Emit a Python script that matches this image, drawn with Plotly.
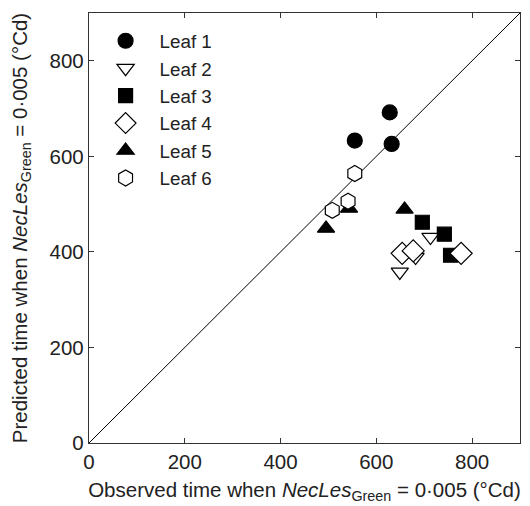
import plotly.graph_objects as go

leaf_names = ["Leaf 1", "Leaf 2", "Leaf 3", "Leaf 4", "Leaf 5", "Leaf 6"]
leaf1_obs = [628, 555, 632]
leaf1_pred = [692, 633, 626]
leaf2_obs = [713, 682, 649]
leaf2_pred = [431, 389, 358]
leaf3_obs = [696, 742, 755]
leaf3_pred = [462, 437, 393]
leaf4_obs = [654, 677, 777]
leaf4_pred = [397, 402, 397]
leaf5_obs = [543, 495, 659]
leaf5_pred = [491, 449, 489]
leaf6_obs = [555, 541, 508]
leaf6_pred = [564, 506, 487]
line_xy = [0, 900]
tick_vals = [0, 200, 400, 600, 800]

series = [
    (leaf1_obs, leaf1_pred, "circle", "black", 15),
    (leaf2_obs, leaf2_pred, "triangle-down", "white", 15),
    (leaf3_obs, leaf3_pred, "square", "black", 14),
    (leaf4_obs, leaf4_pred, "diamond", "white", 17),
    (leaf5_obs, leaf5_pred, "triangle-up", "black", 15),
    (leaf6_obs, leaf6_pred, "hexagon", "white", 16),
]

FONT = "Liberation Sans, Arial, Helvetica, sans-serif"
fig = go.Figure()
fig.add_trace(go.Scatter(x=line_xy, y=line_xy, mode="lines",
                         line=dict(color="black", width=1), showlegend=False,
                         hoverinfo="skip"))
for name, (xs, ys, sym, col, sz) in zip(leaf_names, series):
    fig.add_trace(go.Scatter(
        x=xs, y=ys, mode="markers", name=name,
        marker=dict(symbol=sym, color=col, size=sz,
                    line=dict(color="black", width=1.2)),
    ))

axis_common = dict(
    range=[0, 900], tickvals=tick_vals, ticks="inside", ticklen=5,
    tickcolor="#333", tickwidth=1, showline=True, linecolor="#333",
    linewidth=1.3, mirror="ticks", showgrid=False, zeroline=False,
    tickfont=dict(size=20.5, color="#222", family=FONT),
)
fig.update_layout(
    width=530, height=506,
    margin=dict(l=89, r=9, t=13, b=61),
    paper_bgcolor="white", plot_bgcolor="white",
    font=dict(family=FONT, size=20, color="#222"),
    xaxis=dict(**axis_common,
               title=dict(text="Observed time when <i>NecLes</i><sub>Green</sub> = 0·005 (°Cd)",
                          font=dict(size=20.5), standoff=10)),
    yaxis=dict(**axis_common,
               title=dict(text="Predicted time when <i>NecLes</i><sub>Green</sub> = 0·005 (°Cd)",
                          font=dict(size=20.5), standoff=16)),
    legend=dict(x=0.006, y=0.979, xanchor="left", yanchor="top",
                bgcolor="rgba(0,0,0,0)", font=dict(size=18.8, color="#222"),
                itemwidth=58, tracegroupgap=0),
)
fig.write_html("out.html")
